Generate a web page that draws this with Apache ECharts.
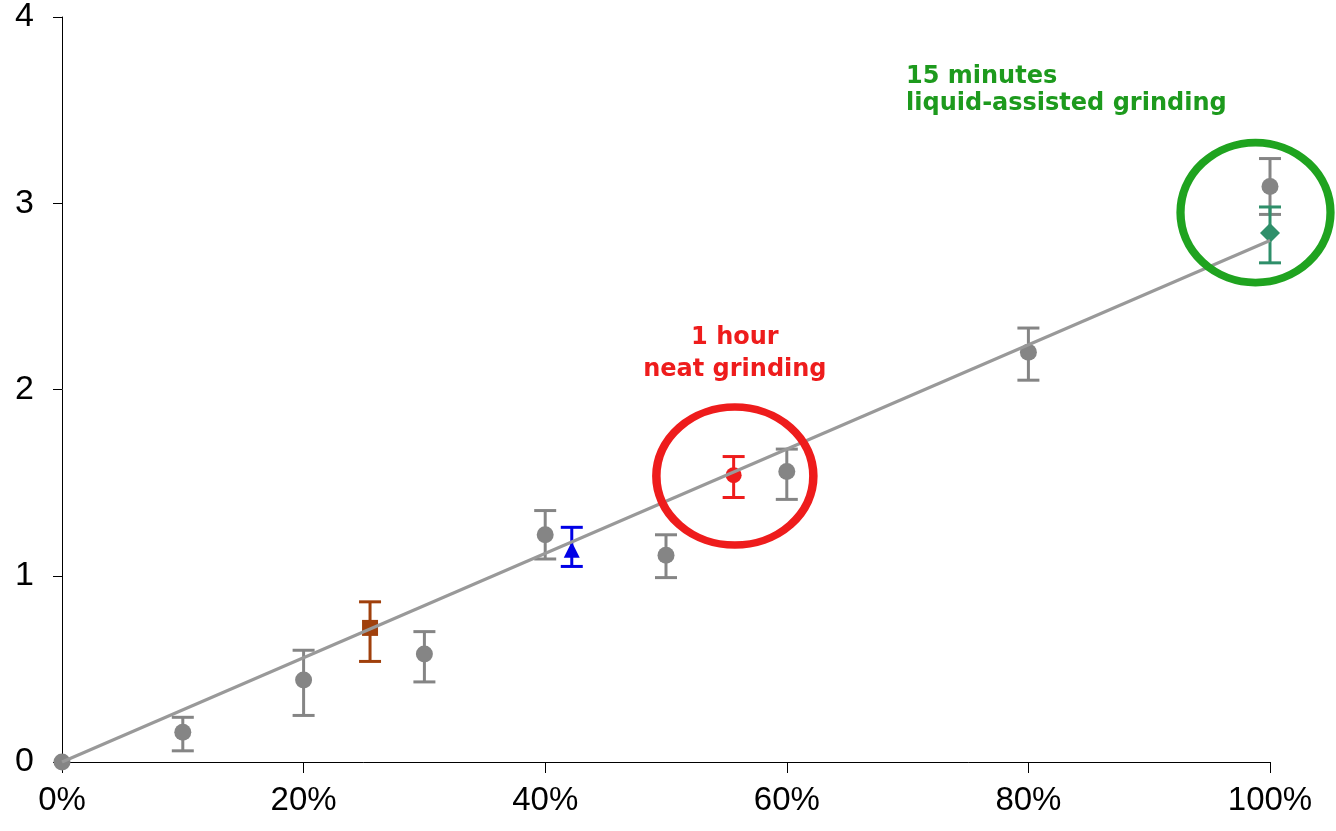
<!DOCTYPE html>
<html>
<head>
<meta charset="utf-8">
<script src="https://cdn.jsdelivr.net/npm/echarts@6/dist/echarts.min.js"></script>
<style>
html,body{margin:0;padding:0;background:#fff;}
#chart{width:1336px;height:831px;}
</style>
</head>
<body>
<div id="chart"></div>
<script>
// ---- data ----
const xTicks = [0, 20, 40, 60, 80, 100];
const yTicks = [0, 1, 2, 3, 4];

const grayX  = [0, 10, 20, 30, 40, 50, 60, 80, 100];
const grayY  = [0, 0.16, 0.44, 0.58, 1.22, 1.11, 1.56, 2.20, 3.09];
const grayHi = [null, 0.24, 0.60, 0.70, 1.35, 1.22, 1.68, 2.33, 3.24];
const grayLo = [null, 0.06, 0.25, 0.43, 1.09, 0.99, 1.41, 2.05, 2.94];

const brownPt = [25.5, 0.72, 0.86, 0.54];
const bluePt  = [42.2, 1.14, 1.26, 1.05];
const redPt   = [55.6, 1.54, 1.64, 1.42];
const greenPt = [100, 2.84, 2.98, 2.68];

const trendLine = [[0, 0], [100, 2.80]];

const redCircleCenter = [55.7, 1.535];
const greenCircleCenter = [98.8, 2.95];

const redLabel = '1 hour\nneat grinding';
const greenLabel = '15 minutes\nliquid-assisted grinding';

// ---- helpers ----
function errRender(color) {
  return function (params, api) {
    const x = api.value(0);
    const hi = api.coord([x, api.value(2)]);
    const lo = api.coord([x, api.value(3)]);
    const cw = 11;
    const st = { stroke: color, lineWidth: 3 };
    return {
      type: 'group',
      children: [
        { type: 'line', shape: { x1: hi[0], y1: hi[1], x2: lo[0], y2: lo[1] }, style: st },
        { type: 'line', shape: { x1: hi[0] - cw, y1: hi[1], x2: hi[0] + cw, y2: hi[1] }, style: st },
        { type: 'line', shape: { x1: lo[0] - cw, y1: lo[1], x2: lo[0] + cw, y2: lo[1] }, style: st }
      ]
    };
  };
}

const grayErr = grayX.map((x, i) => [x, grayY[i], grayHi[i], grayLo[i]]).filter(d => d[2] !== null);
const grayPts = grayX.map((x, i) => [x, grayY[i]]);

const GRAY = '#858585';
const BROWN = '#a0400c';
const BLUE = '#0000e6';
const RED = '#ee1c1c';
const GREENM = '#2f8f6a';
const GREENC = '#1fa31f';

function errSeries(data, color) {
  return { type: 'custom', renderItem: errRender(color), data: data, z: 3, silent: true,
           encode: { x: 0, y: [1, 2, 3] } };
}
function markSeries(data, color, symbol, size) {
  return { type: 'scatter', data: data.map(d => [d[0], d[1]]), symbol: symbol, symbolSize: size,
           itemStyle: { color: color, opacity: 1 }, z: 4, silent: true };
}

const chart = echarts.init(document.getElementById('chart'), null, { renderer: 'canvas' });
chart.setOption({
  animation: false,
  backgroundColor: '#fff',
  grid: { left: 62, right: 66, top: 16, bottom: 69, containLabel: false },
  xAxis: {
    type: 'value', min: 0, max: 100, interval: 20,
    axisLine: { show: true, onZero: false, lineStyle: { color: '#000', width: 1 } },
    axisTick: { show: true, length: 11, lineStyle: { color: '#000' } },
    splitLine: { show: false },
    axisLabel: {
      margin: 22, color: '#000', fontFamily: 'Liberation Sans', fontSize: 33,
      formatter: v => xTicks.includes(v) ? v + '%' : ''
    }
  },
  yAxis: {
    type: 'value', min: 0, max: 4, interval: 1,
    axisLine: { show: true, onZero: false, lineStyle: { color: '#000', width: 1 } },
    axisTick: { show: true, length: 9, lineStyle: { color: '#000' } },
    splitLine: { show: false },
    axisLabel: {
      margin: 28, color: '#000', fontFamily: 'Liberation Sans', fontSize: 34,
      formatter: v => yTicks.includes(v) ? String(v) : ''
    }
  },
  series: [
    errSeries(grayErr, GRAY),
    errSeries([brownPt], BROWN),
    errSeries([bluePt], BLUE),
    errSeries([redPt], RED),
    errSeries([greenPt], GREENM),
    markSeries(grayPts, GRAY, 'circle', 17),
    markSeries([brownPt], BROWN, 'rect', 16),
    markSeries([bluePt], BLUE, 'triangle', 16),
    markSeries([redPt], RED, 'circle', 16),
    markSeries([greenPt], GREENM, 'diamond', 20),
    {
      type: 'line', data: trendLine, symbol: 'none', z: 5, silent: true,
      lineStyle: { color: '#999999', width: 3 }
    },
    {
      type: 'scatter', data: [redCircleCenter], symbol: 'circle', symbolSize: [157, 138], z: 6, silent: true,
      itemStyle: { color: 'rgba(0,0,0,0)', borderColor: RED, borderWidth: 8, opacity: 1 },
      label: {
        show: true, position: 'top', distance: 18, formatter: redLabel, color: RED,
        fontFamily: 'DejaVu Sans', fontWeight: 'bold', fontSize: 24, lineHeight: 32, align: 'center'
      }
    },
    {
      type: 'scatter', data: [greenCircleCenter], symbol: 'circle', symbolSize: [150, 140], z: 6, silent: true,
      itemStyle: { color: 'rgba(0,0,0,0)', borderColor: GREENC, borderWidth: 8, opacity: 1 }
    }
  ],
  graphic: [
    {
      type: 'text', left: 906, top: 63, z: 10, silent: true,
      style: {
        text: greenLabel, fill: '#1d9a1d', font: 'bold 24px "DejaVu Sans"', lineHeight: 27
      }
    }
  ]
});
</script>
</body>
</html>
